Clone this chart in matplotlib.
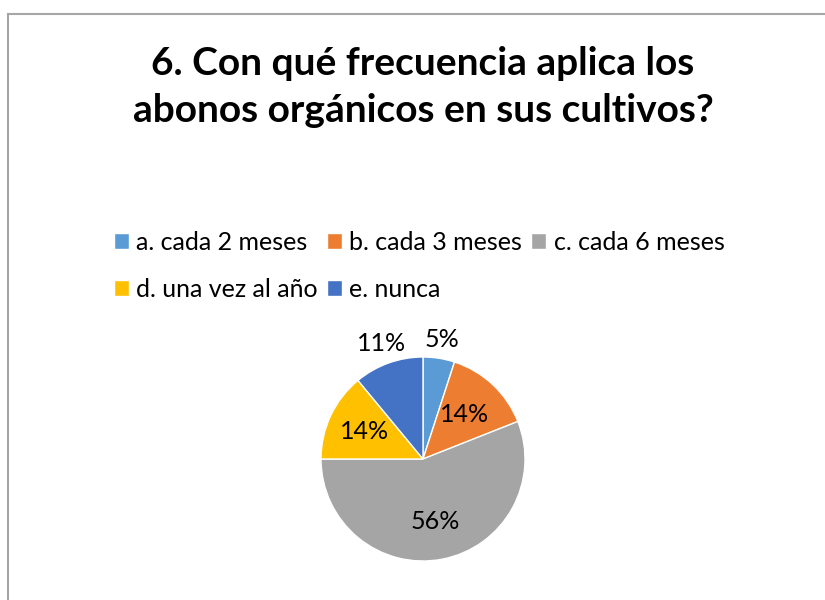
import numpy as np
import matplotlib.pyplot as plt
from matplotlib.lines import Line2D

plt.rcParams['font.family'] = ['Lato', 'DejaVu Sans']

# datos
categorias = ["a. cada 2 meses", "b. cada 3 meses", "c. cada 6 meses",
              "d. una vez al año", "e. nunca"]
valores = [5, 14, 56, 14, 11]
colores = ["#5B9BD5", "#ED7D31", "#A5A5A5", "#FFC000", "#4472C4"]
titulo = "6. Con qué frecuencia aplica los\nabonos orgánicos en sus cultivos?"

# distancia radial de cada etiqueta (como en el original)
dist_etiquetas = [1.19, 0.6, 0.62, 0.63, 1.2]

W, H = 825, 600
fig = plt.figure(figsize=(W / 100, H / 100), dpi=100)

# marco gris (solo izquierda y arriba visibles)
fig.add_artist(Line2D([7.5 / W, 7.5 / W], [0, 1 - 14 / H], color="#A6A6A6", lw=1.5))
fig.add_artist(Line2D([7.5 / W, 1], [1 - 14 / H, 1 - 14 / H], color="#A6A6A6", lw=1.5))

fig.text(423 / W, 1 - 46 / H, titulo, ha="center", va="top", fontsize=28,
         fontweight="bold", color="#000000", linespacing=1.4)

cx, cy, r = 423, 459, 102
ax = fig.add_axes([(cx - r) / W, (H - cy - r) / H, 2 * r / W, 2 * r / H])
wedges, textos, pcts = ax.pie(valores, colors=colores, startangle=90, counterclock=False,
                              autopct="%1.0f%%", pctdistance=0.6,
                              wedgeprops=dict(edgecolor="white", linewidth=1),
                              textprops=dict(fontsize=18, color="#000000"))
ax.set_xlim(-1, 1)
ax.set_ylim(-1, 1)
ax.set_aspect("equal")

for w, t, d in zip(wedges, pcts, dist_etiquetas):
    ang = np.deg2rad((w.theta1 + w.theta2) / 2)
    t.set_position((d * np.cos(ang), d * np.sin(ang)))
    t.set_ha("center")
    t.set_va("center")

# leyenda en filas: a b c / d e
orden = [0, 3, 1, 4, 2]
fig.legend([wedges[i] for i in orden], [categorias[i] for i in orden],
           loc="upper left", bbox_to_anchor=(114 / W, 1 - 231 / H), ncol=3,
           frameon=False, fontsize=18, handlelength=0.6, handleheight=0.6,
           handletextpad=0.3, columnspacing=0.35, labelspacing=0.96, borderpad=0,
           borderaxespad=0)

fig.savefig("out.png", dpi=100)
